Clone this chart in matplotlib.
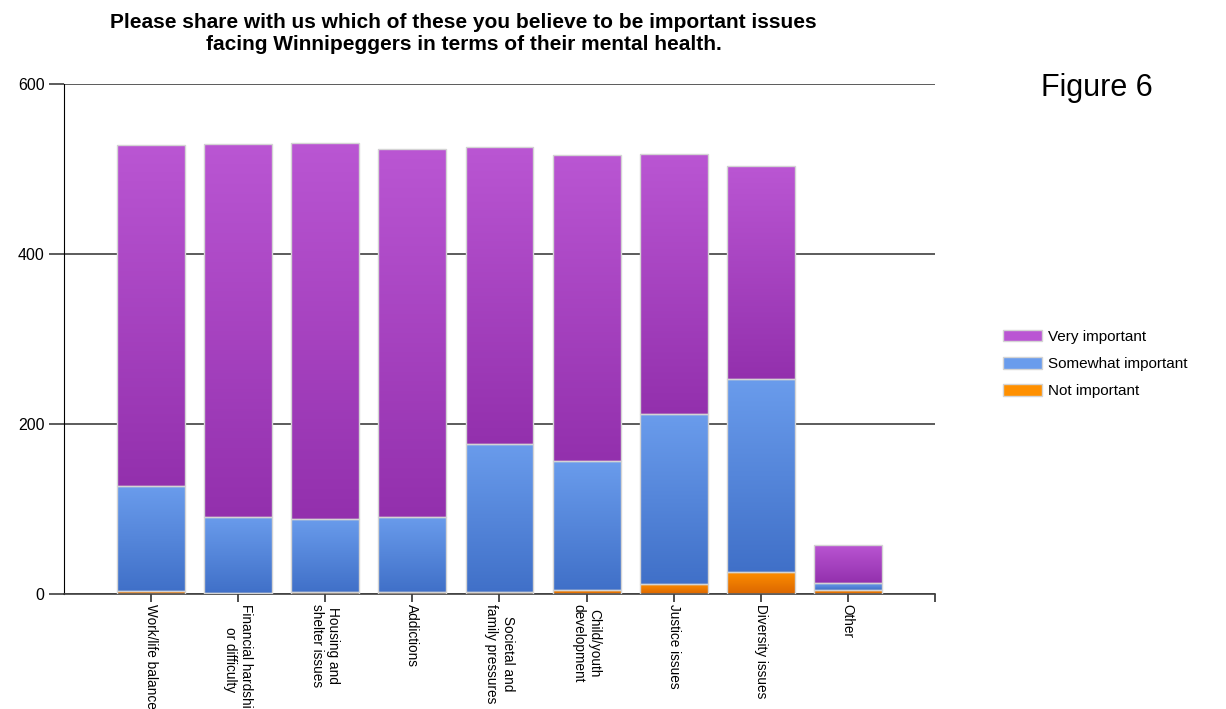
import matplotlib
matplotlib.use("Agg")
import matplotlib.pyplot as plt
import numpy as np
from matplotlib.colors import LinearSegmentedColormap
from matplotlib.patches import Patch

# -- Survey counts -----------------------------------------------------------

CATEGORIES = [
    "Work/life balance",
    "Financial hardship\nor difficulty",
    "Housing and\nshelter issues",
    "Addictions",
    "Societal and\nfamily pressures",
    "Child/youth\ndevelopment",
    "Justice issues",
    "Diversity issues",
    "Other",
]
NOT_IMPORTANT = [4, 1, 2, 2, 2, 5, 12, 26, 5]
SOMEWHAT_IMPORTANT = [123, 90, 86, 89, 175, 151, 200, 227, 8]
VERY_IMPORTANT = [401, 438, 443, 432, 349, 361, 306, 250, 45]

SERIES = [
    ("Not important", NOT_IMPORTANT, ("#db6600", "#ff9000")),
    ("Somewhat important", SOMEWHAT_IMPORTANT, ("#4070c8", "#6a9cec")),
    ("Very important", VERY_IMPORTANT, ("#9330ad", "#ba56d3")),
]

SANS = ["Liberation Sans", "DejaVu Sans"]

fig = plt.figure(figsize=(12.26, 7.09), dpi=100)
ax = fig.add_axes([0.0522, 0.1622, 0.7104, 0.7193])

x = np.arange(len(CATEGORIES))
width = 0.78
bottom = np.zeros(len(CATEGORIES))
handles = []
grad = np.linspace(0, 1, 256).reshape(-1, 1)

# stacked bars, each segment filled with a vertical gradient
for name, values, (dark, light) in SERIES:
    cmap = LinearSegmentedColormap.from_list(name, [dark, light])
    bars = ax.bar(x, values, width, bottom=bottom, facecolor="none",
                  edgecolor="#d4d4d4", linewidth=1.0, zorder=3)
    for bar in bars:
        x0, y0 = bar.get_x(), bar.get_y()
        w, h = bar.get_width(), bar.get_height()
        if h <= 0:
            continue
        img = ax.imshow(grad, cmap=cmap, origin="lower", aspect="auto",
                        extent=[x0, x0 + w, y0, y0 + h], zorder=2,
                        interpolation="bilinear")
        img.set_clip_path(bar)
    bottom += np.array(values)
    handles.append(Patch(facecolor=light, edgecolor="#d4d4d4", label=name))

ax.set_xlim(-1, len(CATEGORIES))
ax.set_ylim(0, 600)

# axes styling
ax.set_yticks([0, 200, 400, 600])
ax.yaxis.grid(True, color="#404040", linewidth=1.2, zorder=1)
ax.set_axisbelow(True)
for side in ("top", "right"):
    ax.spines[side].set_visible(False)
ax.spines["left"].set_color("black")
ax.spines["bottom"].set_color("#404040")
ax.spines["bottom"].set_linewidth(1.2)

ax.set_xticks(list(x) + [len(CATEGORIES)])
ax.set_xticklabels(CATEGORIES + [""], rotation=270, ha="center", va="top",
                   family=SANS, fontsize=9.8)
ax.tick_params(axis="x", length=6, width=1.2, color="#303030", pad=1)
ax.tick_params(axis="y", length=11, width=1.2, color="#404040", pad=3,
               labelsize=11.5)
for lbl in ax.get_yticklabels():
    lbl.set_family(SANS)

fig.text(0.378, 0.953,
         "Please share with us which of these you believe to be important issues\n"
         "facing Winnipeggers in terms of their mental health.",
         ha="center", va="center", fontsize=15, fontweight="bold",
         family=SANS, linespacing=1.2)

fig.text(0.8948, 0.876, "Figure 6", ha="center", va="center",
         fontsize=22, family=SANS)

fig.legend(handles=handles[::-1], loc="center left",
           bbox_to_anchor=(0.8067, 0.4866), frameon=False,
           prop={"family": SANS, "size": 11},
           handlelength=2.6, handleheight=0.8, handletextpad=0.35,
           labelspacing=0.85)

fig.savefig("out.png", dpi=100)
